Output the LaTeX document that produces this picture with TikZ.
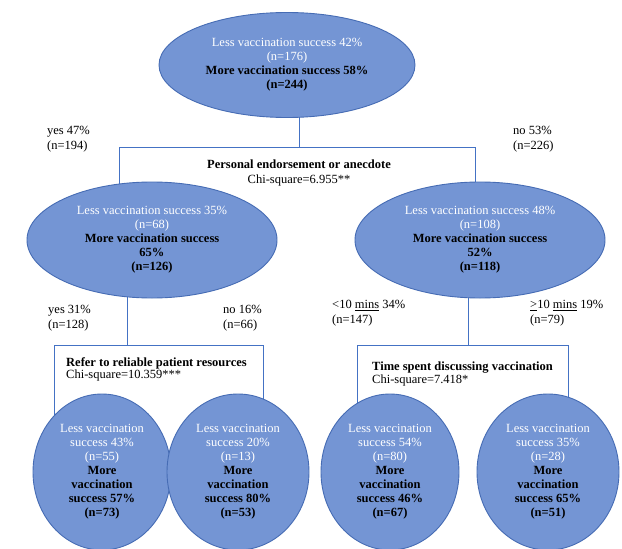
\documentclass[tikz,border=0pt]{standalone}
\usepackage{fontspec}
\setmainfont{Liberation Serif}
\usetikzlibrary{shapes.geometric}
\definecolor{fillblue}{RGB}{116,149,212}
\definecolor{edgeblue}{RGB}{70,108,180}
\definecolor{lineblue}{RGB}{68,114,196}
\pgfdeclarelayer{bg}
\pgfdeclarelayer{canvas}
\pgfsetlayers{canvas,bg,main}
\newcommand{\wl}[1]{\textcolor{white}{#1}}
\begin{document}
\begin{tikzpicture}[x=1pt,y=-1pt,
  bub/.style={ellipse, draw=edgeblue, fill=fillblue, line width=0.9pt, inner sep=0pt, align=center,
    font=\fontsize{12.5}{14}\selectfont},
  link/.style={draw=lineblue, line width=1pt},
  lbl/.style={inner sep=0pt, align=left, anchor=north west, font=\fontsize{12.5}{15}\selectfont},
  hdr/.style={inner sep=0pt, align=center, anchor=north, font=\fontsize{12.5}{14.5}\selectfont}]
\useasboundingbox (0,0) rectangle (622,549);
\begin{pgfonlayer}{canvas}
\fill[white] (0,0) rectangle (622,549);
\end{pgfonlayer}

% nodes
\node[bub, minimum width=256, minimum height=105] (top) at (287,65)
  {\wl{Less vaccination success 42\%}\\ \wl{(n=176)}\\ \textbf{More vaccination success 58\%}\\ \textbf{(n=244)}};
\node[bub, minimum width=250, minimum height=116] (ml) at (152,240)
  {\wl{Less vaccination success 35\%}\\ \wl{(n=68)}\\ \textbf{More vaccination success}\\ \textbf{65\%}\\ \textbf{(n=126)}};
\node[bub, minimum width=250, minimum height=116] (mr) at (480,240)
  {\wl{Less vaccination success 48\%}\\ \wl{(n=108)}\\ \textbf{More vaccination success}\\ \textbf{52\%}\\ \textbf{(n=118)}};
\node[bub, minimum width=138, minimum height=156] (b1) at (102,472)
  {\wl{Less vaccination}\\ \wl{success 43\%}\\ \wl{(n=55)}\\ \textbf{More}\\ \textbf{vaccination}\\ \textbf{success 57\%}\\ \textbf{(n=73)}};
\node[bub, minimum width=142, minimum height=156] (b2) at (238,472)
  {\wl{Less vaccination}\\ \wl{success 20\%}\\ \wl{(n=13)}\\ \textbf{More}\\ \textbf{vaccination}\\ \textbf{success 80\%}\\ \textbf{(n=53)}};
\node[bub, minimum width=138, minimum height=156] (b3) at (390,472)
  {\wl{Less vaccination}\\ \wl{success 54\%}\\ \wl{(n=80)}\\ \textbf{More}\\ \textbf{vaccination}\\ \textbf{success 46\%}\\ \textbf{(n=67)}};
\node[bub, minimum width=142, minimum height=156] (b4) at (548,472)
  {\wl{Less vaccination}\\ \wl{success 35\%}\\ \wl{(n=28)}\\ \textbf{More}\\ \textbf{vaccination}\\ \textbf{success 65\%}\\ \textbf{(n=51)}};

% junction coordinates
\coordinate (j0) at (299,147);
\coordinate (j0l) at (119,147);
\coordinate (j0r) at (475,147);
\coordinate (j1) at (127,345);
\coordinate (j1l) at (54,345);
\coordinate (j1r) at (263,345);
\coordinate (j2) at (468,345);
\coordinate (j2l) at (357,345);
\coordinate (j2r) at (568,345);

\begin{pgfonlayer}{bg}
\draw[link] (top.center -| j0) -- (j0);
\draw[link] (ml.center -| j0l) -- (j0l) -- (j0r) -- (mr.center -| j0r);
\draw[link] (ml.center -| j1) -- (j1);
\draw[link] (b1.center -| j1l) -- (j1l) -- (j1r) -- (b2.center -| j1r);
\draw[link] (mr.center -| j2) -- (j2);
\draw[link] (b3.center -| j2l) -- (j2l) -- (j2r) -- (b4.center -| j2r);
\end{pgfonlayer}

% labels
\node[lbl] (l1) at (47,126) {yes 47\%\\(n=194)};
\node[lbl] (l2) at (513,126) {no 53\%\\(n=226)};
\node[hdr] (h1) at (299,160) {\textbf{Personal endorsement or anecdote}\\Chi-square=6.955**};
\node[lbl] (l3) at (48,305) {yes 31\%\\(n=128)};
\node[lbl] (l4) at (223,305) {no 16\%\\(n=66)};
\node[lbl] (l5) at (332,300) {<10 \underline{mins} 34\%\\(n=147)};
\node[lbl] (l6) at (530,300) {\underline{>}10 \underline{mins} 19\%\\(n=79)};
\node[lbl, font=\fontsize{12.5}{12.5}\selectfont] (h2) at (66,357) {\textbf{Refer to reliable patient resources}\\Chi-square=10.359***};
\node[lbl, font=\fontsize{12.5}{12.5}\selectfont] (h3) at (372,362) {\textbf{Time spent discussing vaccination}\\Chi-square=7.418*};
\end{tikzpicture}
\end{document}
